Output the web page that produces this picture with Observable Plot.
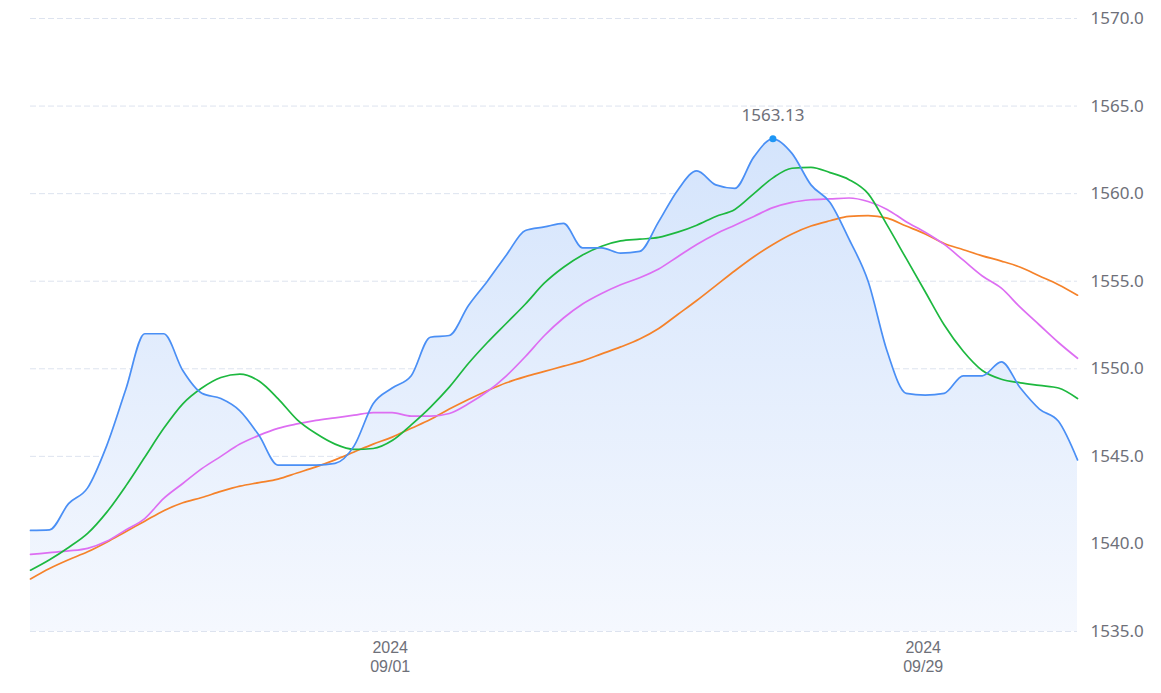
<!DOCTYPE html>
<html>
<head>
<meta charset="utf-8">
<script src="https://cdn.jsdelivr.net/npm/d3@7"></script>
<script src="https://cdn.jsdelivr.net/npm/@observablehq/plot@0.6"></script>
<style>
  html, body { margin: 0; padding: 0; background: #fff; }
  #chart { width: 1161px; height: 693px; }
</style>
</head>
<body>
<div id="chart"></div>
<script>
// ---- data ----
const startDate = "2024-08-13";
const endDate = "2024-10-08";
const xTicks = ["2024-09-01", "2024-09-29"];
const yTicks = [1535, 1540, 1545, 1550, 1555, 1560, 1565, 1570];
const yDomain = [1535, 1570];

const priceSeries = [1540.77,1540.8,1542.3,1543.2,1545.6,1548.8,1552.0,1552.0,1549.9,1548.6,
  1548.3,1547.6,1546.2,1544.5,1544.5,1544.5,1544.6,1545.6,1548.0,1548.9,
  1549.6,1551.8,1551.9,1553.6,1555.0,1556.5,1557.9,1558.1,1558.3,1556.9,
  1556.9,1556.6,1556.7,1558.4,1560.2,1561.3,1560.5,1560.3,1562.1,1563.13,
  1562.3,1560.5,1559.5,1557.4,1555.0,1551.0,1548.6,1548.5,1548.6,1549.6,
  1549.6,1550.4,1548.9,1547.7,1547.0,1544.8];
const greenSeries = [1538.5,1539.1,1539.8,1540.6,1541.8,1543.3,1544.95,1546.6,1548.0,1548.9,
  1549.5,1549.7,1549.3,1548.3,1547.1,1546.3,1545.7,1545.4,1545.45,1545.9,
  1546.8,1547.8,1548.95,1550.3,1551.5,1552.6,1553.7,1554.9,1555.8,1556.5,
  1557.0,1557.3,1557.4,1557.5,1557.8,1558.2,1558.7,1559.1,1560.0,1560.9,
  1561.45,1561.5,1561.2,1560.8,1560.0,1558.2,1556.3,1554.4,1552.5,1551.0,
  1549.9,1549.4,1549.2,1549.05,1548.9,1548.3];
const magentaSeries = [1539.4,1539.5,1539.6,1539.75,1540.15,1540.8,1541.45,1542.6,1543.45,1544.3,
  1545.0,1545.7,1546.2,1546.6,1546.85,1547.05,1547.2,1547.35,1547.5,1547.5,
  1547.3,1547.3,1547.45,1548.0,1548.7,1549.6,1550.7,1551.9,1552.9,1553.7,
  1554.3,1554.8,1555.2,1555.7,1556.4,1557.1,1557.7,1558.2,1558.7,1559.2,
  1559.5,1559.65,1559.7,1559.75,1559.55,1559.1,1558.4,1557.8,1557.1,1556.2,
  1555.3,1554.6,1553.5,1552.5,1551.5,1550.6];
const orangeSeries = [1538.0,1538.6,1539.1,1539.55,1540.1,1540.7,1541.3,1541.9,1542.35,1542.65,
  1543.0,1543.3,1543.5,1543.7,1544.05,1544.4,1544.8,1545.25,1545.7,1546.1,
  1546.6,1547.1,1547.7,1548.25,1548.75,1549.2,1549.55,1549.85,1550.15,1550.45,
  1550.85,1551.25,1551.7,1552.3,1553.1,1553.9,1554.75,1555.6,1556.4,1557.1,
  1557.7,1558.15,1558.45,1558.7,1558.75,1558.6,1558.15,1557.7,1557.15,1556.8,
  1556.45,1556.15,1555.8,1555.3,1554.8,1554.2];

// ---- build tables ----
const dates = d3.utcDays(new Date(startDate), new Date(endDate));
const toRows = (arr) => arr.map((v, i) => ({date: dates[i], v}));
const price = toRows(priceSeries);
const green = toRows(greenSeries);
const magenta = toRows(magentaSeries);
const orange = toRows(orangeSeries);
const peak = price.reduce((a, b) => (b.v > a.v ? b : a));
const xTickDates = xTicks.map(s => new Date(s));

const gray = "#6e7079";
const font = "'Noto Sans', 'DejaVu Sans', sans-serif";
const xFont = "'Liberation Sans', Arial, sans-serif";

const chart = Plot.plot({
  width: 1161,
  height: 693,
  marginLeft: 30,
  marginRight: 84,
  marginTop: 18,
  marginBottom: 62,
  style: {fontFamily: font, background: "#fff", overflow: "visible"},
  x: {type: "utc", domain: [dates[0], dates[dates.length - 1]]},
  y: {domain: yDomain},
  marks: [
    Plot.ruleY(yTicks, {stroke: "#dde3ef", strokeWidth: 1, strokeDasharray: "6,3"}),
    Plot.areaY(price, {x: "date", y1: () => yDomain[0], y2: "v", curve: "monotone-x", fill: "url(#areaGrad)"}),
    Plot.lineY(orange, {x: "date", y: "v", curve: "monotone-x", stroke: "#f5822a", strokeWidth: 1.7}),
    Plot.lineY(magenta, {x: "date", y: "v", curve: "monotone-x", stroke: "#dd6ef2", strokeWidth: 1.7}),
    Plot.lineY(green, {x: "date", y: "v", curve: "monotone-x", stroke: "#1db83f", strokeWidth: 1.7}),
    Plot.lineY(price, {x: "date", y: "v", curve: "monotone-x", stroke: "#4a8ff5", strokeWidth: 1.7}),
    Plot.dot([peak], {x: "date", y: "v", r: 3.5, fill: "#1e96f5", stroke: null}),
    Plot.text([peak], {x: "date", y: "v", text: d => d.v.toFixed(2), dy: -23, fill: gray, fontSize: 17}),
    Plot.axisY(yTicks, {anchor: "right", tickSize: 0, tickPadding: 13, tickFormat: d => d.toFixed(1),
      fontSize: 17, fill: gray, textAnchor: "start", label: null}),
    Plot.axisX(xTickDates, {anchor: "bottom", tickSize: 0, tickPadding: 10, dx: -2,
      tickFormat: d3.utcFormat("%Y"), fontSize: 16, fontFamily: xFont, fill: gray, label: null}),
    Plot.axisX(xTickDates, {anchor: "bottom", tickSize: 0, tickPadding: 29, dx: -2,
      tickFormat: d3.utcFormat("%m/%d"), fontSize: 16, fontFamily: xFont, fill: gray, label: null})
  ]
});

d3.select(chart).insert("defs", ":first-child").html(
  `<linearGradient id="areaGrad" x1="0" y1="0" x2="0" y2="1">
     <stop offset="0%" stop-color="rgb(212,228,252)"/>
     <stop offset="100%" stop-color="rgb(245,248,254)"/>
   </linearGradient>`);

document.getElementById("chart").appendChild(chart);
</script>
</body>
</html>
